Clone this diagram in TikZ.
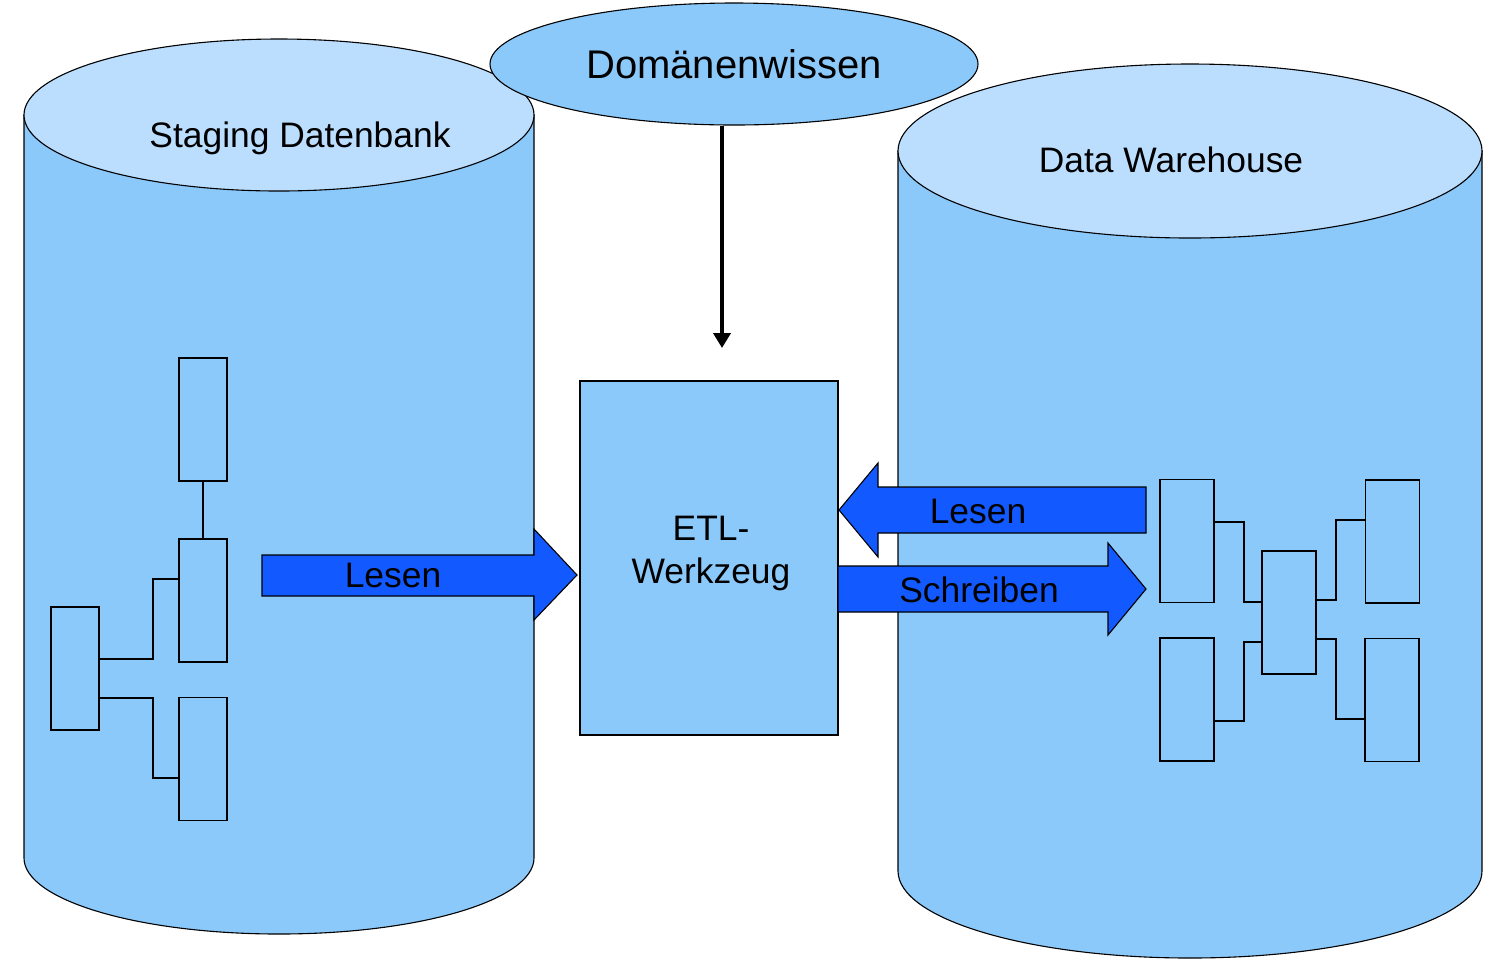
\documentclass[tikz,border=0pt]{standalone}
\usepackage{fontspec}
\setmainfont{Liberation Sans}
\usetikzlibrary{shapes.geometric,arrows.meta}
\definecolor{body}{HTML}{8CC9FB}
\definecolor{toplid}{HTML}{BBDEFF}
\definecolor{bigarrow}{HTML}{1259FF}
\tikzset{
  cyl/.style={draw=black,line width=0.55pt,fill=body},
  lid/.style={draw=black,line width=0.55pt,fill=toplid},
  tbl/.style={draw=black,line width=0.7pt,fill=body,rectangle,inner sep=0pt,minimum width=24pt,minimum height=61.5pt},
  link/.style={draw=black,line width=0.7pt},
  blockarrow/.style={draw=black,line width=0.55pt,fill=bigarrow},
  lbl/.style={font=\fontsize{17.7}{21.5}\selectfont,inner sep=0pt},
}
\begin{document}
\begin{tikzpicture}[x=0.5pt,y=-0.5pt]
\useasboundingbox (0,0) rectangle (1498,966);
% left cylinder
\path[cyl] (24,115) -- (24,858) arc[start angle=180,end angle=360,x radius=127.5pt,y radius=38pt] -- (534,115) -- cycle;
\path[lid] (279,115) ellipse[x radius=127.5pt,y radius=38pt];
\node[lbl,anchor=base] (stlabel) at (300,147) {Staging Datenbank};
% right cylinder
\path[cyl] (898,151) -- (898,871) arc[start angle=180,end angle=360,x radius=146pt,y radius=43.5pt] -- (1482,151) -- cycle;
\path[lid] (1190,151) ellipse[x radius=146pt,y radius=43.5pt];
\node[lbl,anchor=base] (dwlabel) at (1171,172) {Data Warehouse};
% ETL box
\node[draw=black,line width=0.55pt,fill=body,rectangle,minimum width=129pt,minimum height=177pt,inner sep=0pt] (etl) at (709,558) {};
\node[lbl,align=center] (etltext) at (711,553) {ETL-\\Werkzeug};
% Domaenenwissen
\node[draw=black,line width=0.55pt,fill=body,ellipse,minimum width=244pt,minimum height=61pt,inner sep=0pt,font=\fontsize{20}{24}\selectfont] (dom) at (734,64) {Domänenwissen};
\coordinate (domend) at (722,348);
\draw[line width=1.9pt,-{Triangle[width=8.5pt,length=7.5pt]}] (dom.south -| domend) -- (domend);
% block arrows
\path[blockarrow] (262,555) -- (534,555) -- (534,529) -- (577,575) -- (534,620) -- (534,596) -- (262,596) -- cycle;
\node[lbl,anchor=base] (lesenl) at (393,587) {Lesen};
\path[blockarrow] (1146,487) -- (878,487) -- (878,463) -- (839,510) -- (878,557) -- (878,533) -- (1146,533) -- cycle;
\node[lbl,anchor=base] (lesenr) at (978,523) {Lesen};
\path[blockarrow] (838,566) -- (1108,566) -- (1108,543) -- (1146,589) -- (1108,635) -- (1108,612) -- (838,612) -- cycle;
\node[lbl,anchor=base] (schreiben) at (979,602) {Schreiben};
% left small tables
\node[tbl] (l1) at (203,419.5) {};
\node[tbl] (l2) at (203,600.5) {};
\node[tbl] (l3) at (75,668.5) {};
\node[tbl] (l4) at (203,759) {};
\draw[link] (l1.south) -- (l2.north);
\draw[link] (l3.east |- 0,659) -| (153,579) -- (l2.west |- 0,579);
\draw[link] (l3.east |- 0,698) -| (153,778) -- (l4.west |- 0,778);
% right small tables
\node[tbl,minimum width=27pt] (r1) at (1187,541) {};
\node[tbl,minimum width=27pt] (r2) at (1187,699.5) {};
\node[tbl,minimum width=27pt] (r3) at (1289,612.5) {};
\node[tbl,minimum width=27pt] (r4) at (1392.5,541.5) {};
\node[tbl,minimum width=27pt] (r5) at (1392,700) {};
\draw[link] (r1.east |- 0,522) -| (1244,602) -- (r3.west |- 0,602);
\draw[link] (r2.east |- 0,721) -| (1244,642) -- (r3.west |- 0,642);
\draw[link] (r3.east |- 0,600) -| (1336,520) -- (r4.west |- 0,520);
\draw[link] (r3.east |- 0,639) -| (1336,719) -- (r5.west |- 0,719);
\end{tikzpicture}
\end{document}
